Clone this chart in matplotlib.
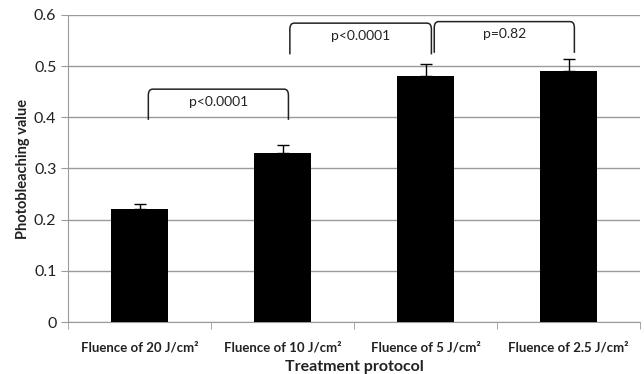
import numpy as np
import matplotlib.pyplot as plt
from matplotlib.path import Path
from matplotlib.patches import PathPatch

# Data
categories = ['Fluence of 20 J/cm²', 'Fluence of 10 J/cm²',
              'Fluence of 5 J/cm²', 'Fluence of 2.5 J/cm²']
values = [0.22, 0.33, 0.48, 0.49]
errors = [0.01, 0.015, 0.025, 0.024]

# Significance brackets: (start, end, bottom, top, label)
brackets = [
    (0.06, 1.04, 0.395, 0.455, 'p<0.0001'),
    (1.05, 2.04, 0.523, 0.584, 'p<0.0001'),
    (2.06, 3.04, 0.526, 0.587, 'p=0.82'),
]

plt.rcParams['font.family'] = ['Lato', 'DejaVu Sans']

fig = plt.figure(figsize=(6.44, 3.74), dpi=100)
ax = fig.add_axes([0.106, 0.139, 0.888, 0.821])

x = np.arange(len(categories))
ax.bar(x, values, width=0.4, color='black', zorder=3)
ax.errorbar(x, values, yerr=[np.zeros(len(errors)), errors], fmt='none',
            ecolor='black', elinewidth=1, capsize=4, capthick=1, zorder=4)

# Curly-ish brackets
for x0, x1, yb, yt, label in brackets:
    r = 0.03
    ry = 0.012
    verts = [(x0, yb), (x0, yt - ry), (x0, yt), (x0 + r, yt),
             (x1 - r, yt), (x1, yt), (x1, yt - ry), (x1, yb)]
    codes = [Path.MOVETO, Path.LINETO, Path.CURVE3, Path.CURVE3,
             Path.LINETO, Path.CURVE3, Path.CURVE3, Path.LINETO]
    ax.add_patch(PathPatch(Path(verts, codes), fill=False,
                           edgecolor='#222222', lw=1.1, zorder=5))
    ax.text((x0 + x1) / 2, yt - 0.025, label, ha='center', va='center',
            fontsize=10, color='#222222')

ax.set_xlim(-0.5, 3.5)
ax.set_ylim(0, 0.6)
ax.set_yticks(np.arange(0, 0.61, 0.1))
ax.set_yticklabels(['0', '0.1', '0.2', '0.3', '0.4', '0.5', '0.6'],
                   fontsize=11.5, color='#222222')
ax.yaxis.grid(True, color='#9a9a9a', lw=1, zorder=0)

ax.set_xticks(x)
ax.set_xticklabels(categories, fontsize=9.5, fontweight='bold',
                   color='#222222')
ax.tick_params(axis='x', length=0, pad=14)
ax.set_xticks(np.arange(-0.5, 4, 1), minor=True)
ax.tick_params(axis='x', which='minor', length=5, color='#9a9a9a')
ax.tick_params(axis='y', length=5, color='#9a9a9a')

for s in ['top', 'right']:
    ax.spines[s].set_visible(False)
for s in ['left', 'bottom']:
    ax.spines[s].set_color('#9a9a9a')

ax.set_ylabel('Photobleaching value', fontsize=10.5, fontweight='bold',
              color='#222222', labelpad=3)
ax.set_xlabel('Treatment protocol', fontsize=11.5, fontweight='bold',
              color='#222222', labelpad=5)

fig.savefig('out.png', dpi=100)
